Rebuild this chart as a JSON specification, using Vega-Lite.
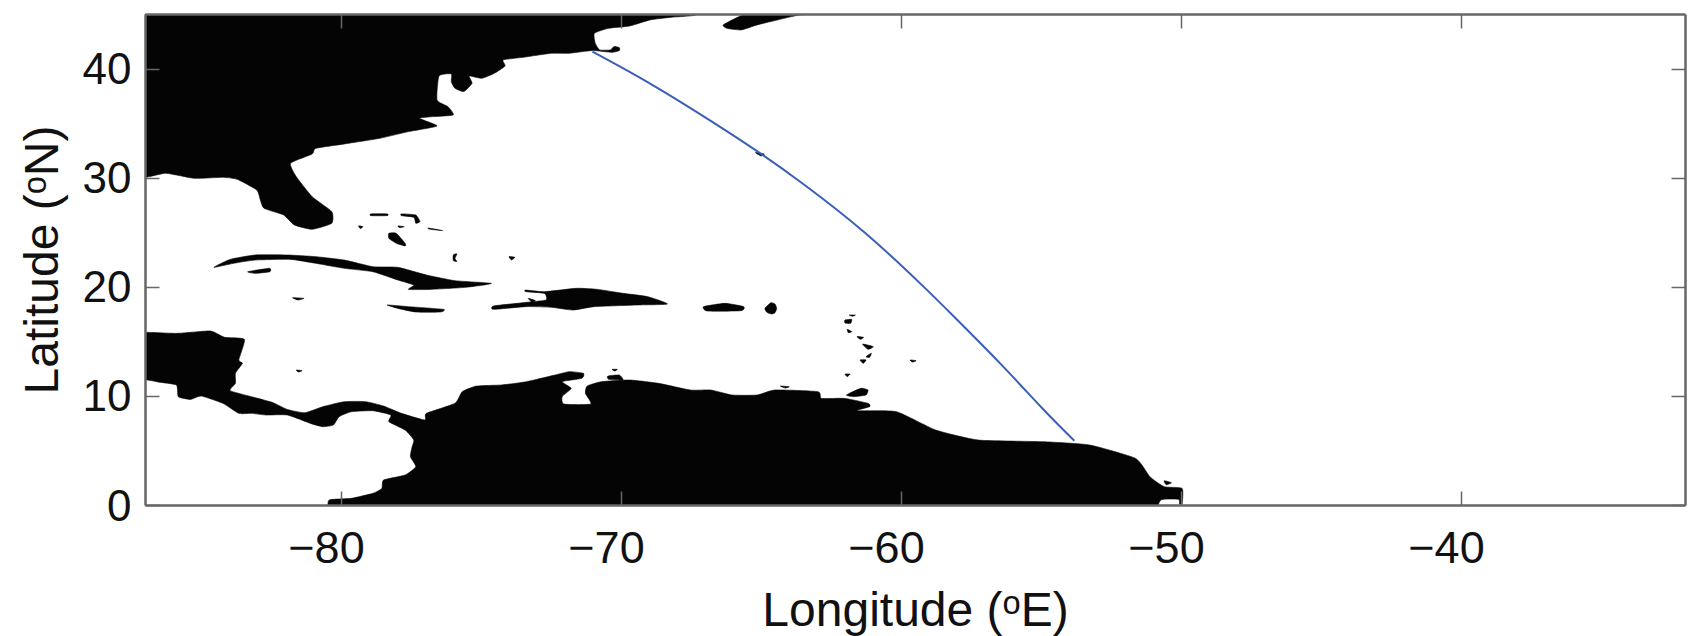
{"$schema":"https://vega.github.io/schema/vega-lite/v6.json","width":1540,"height":491,"autosize":"none","padding":{"left":145,"top":14,"right":3,"bottom":131},"background":"white","config":{"view":{"stroke":null},"font":"Liberation Sans"},"datasets":{"land":[
{"s":"na","i":1,"lon":-88,"lat":46},{"s":"na","i":2,"lon":-67.31,"lat":46},{"s":"na","i":3,"lon":-67.31,"lat":44.92},{"s":"na","i":4,"lon":-68.2,"lat":44.7},{"s":"na","i":5,"lon":-68.96,"lat":44.46},{"s":"na","i":6,"lon":-69.68,"lat":43.91},{"s":"na","i":7,"lon":-70.44,"lat":43.69},{"s":"na","i":8,"lon":-70.95,"lat":43.23},{"s":"na","i":9,"lon":-70.92,"lat":42.32},{"s":"na","i":10,"lon":-70.76,"lat":41.71},{"s":"na","i":11,"lon":-70.38,"lat":41.71},{"s":"na","i":12,"lon":-70.25,"lat":42.01},{"s":"na","i":13,"lon":-70.06,"lat":41.92},{"s":"na","i":14,"lon":-70.06,"lat":41.65},{"s":"na","i":15,"lon":-70.32,"lat":41.49},{"s":"na","i":16,"lon":-71.02,"lat":41.65},{"s":"na","i":17,"lon":-71.85,"lat":41.4},{"s":"na","i":18,"lon":-72.49,"lat":41.4},{"s":"na","i":19,"lon":-73.5,"lat":41.03},{"s":"na","i":20,"lon":-74.21,"lat":40.79},{"s":"na","i":21,"lon":-74.14,"lat":40.24},{"s":"na","i":22,"lon":-74.52,"lat":39.57},{"s":"na","i":23,"lon":-74.97,"lat":39.11},{"s":"na","i":24,"lon":-75.42,"lat":39.32},{"s":"na","i":25,"lon":-75.32,"lat":38.65},{"s":"na","i":26,"lon":-75.61,"lat":37.89},{"s":"na","i":27,"lon":-75.93,"lat":38.19},{"s":"na","i":28,"lon":-76.06,"lat":38.8},{"s":"na","i":29,"lon":-76.06,"lat":39.51},{"s":"na","i":30,"lon":-76.5,"lat":39.32},{"s":"na","i":31,"lon":-76.57,"lat":37.12},{"s":"na","i":32,"lon":-76.18,"lat":36.51},{"s":"na","i":33,"lon":-75.99,"lat":35.75},{"s":"na","i":34,"lon":-76.69,"lat":35.6},{"s":"na","i":35,"lon":-77.2,"lat":35.44},{"s":"na","i":36,"lon":-76.57,"lat":34.74},{"s":"na","i":37,"lon":-77.59,"lat":34.22},{"s":"na","i":38,"lon":-78.61,"lat":33.61},{"s":"na","i":39,"lon":-79.88,"lat":33.09},{"s":"na","i":40,"lon":-80.9,"lat":32.69},{"s":"na","i":41,"lon":-81.03,"lat":32.17},{"s":"na","i":42,"lon":-81.8,"lat":31.32},{"s":"na","i":43,"lon":-81.6,"lat":30.1},{"s":"na","i":44,"lon":-81.03,"lat":28.26},{"s":"na","i":45,"lon":-80.33,"lat":26.89},{"s":"na","i":46,"lon":-80.33,"lat":25.82},{"s":"na","i":47,"lon":-81.03,"lat":25.27},{"s":"na","i":48,"lon":-81.67,"lat":25.67},{"s":"na","i":49,"lon":-82.05,"lat":26.58},{"s":"na","i":50,"lon":-82.75,"lat":27.19},{"s":"na","i":51,"lon":-82.88,"lat":27.96},{"s":"na","i":52,"lon":-83.01,"lat":28.87},{"s":"na","i":53,"lon":-83.71,"lat":29.85},{"s":"na","i":54,"lon":-84.22,"lat":30.03},{"s":"na","i":55,"lon":-85.24,"lat":29.94},{"s":"na","i":56,"lon":-86.26,"lat":30.4},{"s":"na","i":57,"lon":-88,"lat":30.4},
{"s":"ns","i":1,"lon":-66.35,"lat":44},{"s":"ns","i":2,"lon":-65.78,"lat":44.76},{"s":"ns","i":3,"lon":-65.39,"lat":45},{"s":"ns","i":4,"lon":-62.59,"lat":45},{"s":"ns","i":5,"lon":-63.6,"lat":44.92},{"s":"ns","i":6,"lon":-64.5,"lat":44.4},{"s":"ns","i":7,"lon":-65.14,"lat":44},{"s":"ns","i":8,"lon":-65.71,"lat":43.54},{"s":"ns","i":9,"lon":-66.22,"lat":43.69},
{"s":"be","i":1,"lon":-65.2,"lat":32.3},{"s":"be","i":2,"lon":-64.88,"lat":32.17},{"s":"be","i":3,"lon":-65,"lat":31.99},
{"s":"b1","i":1,"lon":-78.93,"lat":26.68},{"s":"b1","i":2,"lon":-78.35,"lat":26.68},{"s":"b1","i":3,"lon":-78.35,"lat":26.52},{"s":"b1","i":4,"lon":-78.93,"lat":26.52},
{"s":"b2","i":1,"lon":-77.84,"lat":26.68},{"s":"b2","i":2,"lon":-77.33,"lat":26.58},{"s":"b2","i":3,"lon":-77.18,"lat":25.97},{"s":"b2","i":4,"lon":-77.33,"lat":25.82},{"s":"b2","i":5,"lon":-77.4,"lat":26.37},{"s":"b2","i":6,"lon":-77.84,"lat":26.52},
{"s":"b3","i":1,"lon":-79.37,"lat":25.58},{"s":"b3","i":2,"lon":-79.22,"lat":25.51},{"s":"b3","i":3,"lon":-79.31,"lat":25.33},
{"s":"b4","i":1,"lon":-77.97,"lat":25.58},{"s":"b4","i":2,"lon":-77.74,"lat":25.51},{"s":"b4","i":3,"lon":-77.9,"lat":25.42},
{"s":"b5","i":1,"lon":-76.89,"lat":25.39},{"s":"b5","i":2,"lon":-76.37,"lat":25.15},{"s":"b5","i":3,"lon":-76.82,"lat":25.27},
{"s":"an","i":1,"lon":-78.29,"lat":24.9},{"s":"an","i":2,"lon":-78.03,"lat":24.9},{"s":"an","i":3,"lon":-77.71,"lat":23.99},{"s":"an","i":4,"lon":-77.71,"lat":23.74},{"s":"an","i":5,"lon":-78.03,"lat":23.99},{"s":"an","i":6,"lon":-78.29,"lat":24.44},
{"s":"b7","i":1,"lon":-75.99,"lat":22.92},{"s":"b7","i":2,"lon":-75.86,"lat":23.01},{"s":"b7","i":3,"lon":-75.93,"lat":22.61},{"s":"b7","i":4,"lon":-75.86,"lat":22.31},{"s":"b7","i":5,"lon":-75.99,"lat":22.4},
{"s":"b8","i":1,"lon":-74,"lat":22.76},{"s":"b8","i":2,"lon":-73.79,"lat":22.7},{"s":"b8","i":3,"lon":-73.91,"lat":22.46},
{"s":"cu","i":1,"lon":-84.54,"lat":21.78},{"s":"cu","i":2,"lon":-83.96,"lat":22.51},{"s":"cu","i":3,"lon":-83.07,"lat":22.91},{"s":"cu","i":4,"lon":-81.92,"lat":22.91},{"s":"cu","i":5,"lon":-80.9,"lat":22.76},{"s":"cu","i":6,"lon":-79.88,"lat":22.45},{"s":"cu","i":7,"lon":-78.86,"lat":21.84},{"s":"cu","i":8,"lon":-77.97,"lat":21.78},{"s":"cu","i":9,"lon":-76.95,"lat":21.08},{"s":"cu","i":10,"lon":-75.93,"lat":20.56},{"s":"cu","i":11,"lon":-74.63,"lat":20.31},{"s":"cu","i":12,"lon":-75.55,"lat":19.95},{"s":"cu","i":13,"lon":-76.82,"lat":19.76},{"s":"cu","i":14,"lon":-77.59,"lat":19.76},{"s":"cu","i":15,"lon":-77.4,"lat":20.16},{"s":"cu","i":16,"lon":-77.97,"lat":20.62},{"s":"cu","i":17,"lon":-78.86,"lat":21.38},{"s":"cu","i":18,"lon":-79.88,"lat":21.69},{"s":"cu","i":19,"lon":-80.9,"lat":22.15},{"s":"cu","i":20,"lon":-81.8,"lat":22.51},{"s":"cu","i":21,"lon":-83.07,"lat":22.45},{"s":"cu","i":22,"lon":-83.84,"lat":22.15},
{"s":"yo","i":1,"lon":-83.33,"lat":21.38},{"s":"yo","i":2,"lon":-82.56,"lat":21.69},{"s":"yo","i":3,"lon":-82.54,"lat":21.38},{"s":"yo","i":4,"lon":-83.07,"lat":21.23},
{"s":"ca","i":1,"lon":-81.73,"lat":19},{"s":"ca","i":2,"lon":-81.32,"lat":18.94},{"s":"ca","i":3,"lon":-81.54,"lat":18.79},
{"s":"ja","i":1,"lon":-78.35,"lat":18.33},{"s":"ja","i":2,"lon":-77.59,"lat":18.18},{"s":"ja","i":3,"lon":-76.34,"lat":17.93},{"s":"ja","i":4,"lon":-76.44,"lat":17.69},{"s":"ja","i":5,"lon":-77.33,"lat":17.69},{"s":"ja","i":6,"lon":-77.97,"lat":18.02},
{"s":"hi","i":1,"lon":-73.4,"lat":19.7},{"s":"hi","i":2,"lon":-72.74,"lat":19.55},{"s":"hi","i":3,"lon":-71.59,"lat":19.86},{"s":"hi","i":4,"lon":-70.83,"lat":19.76},{"s":"hi","i":5,"lon":-69.93,"lat":19.4},{"s":"hi","i":6,"lon":-69.04,"lat":19.09},{"s":"hi","i":7,"lon":-68.34,"lat":18.42},{"s":"hi","i":8,"lon":-69.42,"lat":18.33},{"s":"hi","i":9,"lon":-70.95,"lat":18.18},{"s":"hi","i":10,"lon":-71.72,"lat":17.87},{"s":"hi","i":11,"lon":-72.49,"lat":18.12},{"s":"hi","i":12,"lon":-73.38,"lat":18.18},{"s":"hi","i":13,"lon":-74.55,"lat":17.93},{"s":"hi","i":14,"lon":-74.55,"lat":18.24},{"s":"hi","i":15,"lon":-73.5,"lat":18.54},{"s":"hi","i":16,"lon":-72.68,"lat":18.79},{"s":"hi","i":17,"lon":-72.74,"lat":19.4},{"s":"hi","i":18,"lon":-73.4,"lat":19.55},
{"s":"go","i":1,"lon":-73.31,"lat":18.94},{"s":"go","i":2,"lon":-73.06,"lat":18.73},{"s":"go","i":3,"lon":-73.19,"lat":18.6},
{"s":"pr","i":1,"lon":-67.05,"lat":18.18},{"s":"pr","i":2,"lon":-66.29,"lat":18.48},{"s":"pr","i":3,"lon":-65.62,"lat":18.18},{"s":"pr","i":4,"lon":-65.71,"lat":17.81},{"s":"pr","i":5,"lon":-66.92,"lat":17.78},
{"s":"vi","i":1,"lon":-64.86,"lat":18.02},{"s":"vi","i":2,"lon":-64.65,"lat":18.54},{"s":"vi","i":3,"lon":-64.5,"lat":18.42},{"s":"vi","i":4,"lon":-64.44,"lat":18.02},{"s":"vi","i":5,"lon":-64.5,"lat":17.63},{"s":"vi","i":6,"lon":-64.63,"lat":17.5},{"s":"vi","i":7,"lon":-64.79,"lat":17.66},
{"s":"a1","i":1,"lon":-61.85,"lat":17.41},{"s":"a1","i":2,"lon":-61.63,"lat":17.41},{"s":"a1","i":3,"lon":-61.73,"lat":17.29},
{"s":"a2","i":1,"lon":-62,"lat":16.95},{"s":"a2","i":2,"lon":-61.76,"lat":17.01},{"s":"a2","i":3,"lon":-61.8,"lat":16.65},{"s":"a2","i":4,"lon":-62,"lat":16.68},
{"s":"a3","i":1,"lon":-61.92,"lat":16.1},{"s":"a3","i":2,"lon":-61.76,"lat":15.88},{"s":"a3","i":3,"lon":-61.88,"lat":15.79},
{"s":"a4","i":1,"lon":-61.57,"lat":15.43},{"s":"a4","i":2,"lon":-61.34,"lat":15.37},{"s":"a4","i":3,"lon":-61.44,"lat":15.18},
{"s":"a5","i":1,"lon":-61.37,"lat":14.75},{"s":"a5","i":2,"lon":-60.99,"lat":14.51},{"s":"a5","i":3,"lon":-61.18,"lat":14.27},
{"s":"a6","i":1,"lon":-61.25,"lat":13.59},{"s":"a6","i":2,"lon":-61.06,"lat":13.9},{"s":"a6","i":3,"lon":-61.12,"lat":13.53},
{"s":"a7","i":1,"lon":-61.46,"lat":13.29},{"s":"a7","i":2,"lon":-61.25,"lat":13.29},{"s":"a7","i":3,"lon":-61.35,"lat":12.98},
{"s":"a8","i":1,"lon":-62,"lat":12},{"s":"a8","i":2,"lon":-61.82,"lat":12},{"s":"a8","i":3,"lon":-61.92,"lat":11.76},
{"s":"a9","i":1,"lon":-59.68,"lat":13.29},{"s":"a9","i":2,"lon":-59.46,"lat":13.23},{"s":"a9","i":3,"lon":-59.59,"lat":13.1},
{"s":"a10","i":1,"lon":-64.31,"lat":10.9},{"s":"a10","i":2,"lon":-63.99,"lat":10.84},{"s":"a10","i":3,"lon":-64.14,"lat":10.72},
{"s":"tr","i":1,"lon":-61.95,"lat":10.08},{"s":"tr","i":2,"lon":-61.44,"lat":10.69},{"s":"tr","i":3,"lon":-61.18,"lat":10.54},{"s":"tr","i":4,"lon":-61.25,"lat":10.08},{"s":"tr","i":5,"lon":-61.69,"lat":9.93},
{"s":"c1","i":1,"lon":-81.6,"lat":12.37},{"s":"c1","i":2,"lon":-81.39,"lat":12.31},{"s":"c1","i":3,"lon":-81.52,"lat":12.19},
{"s":"c2","i":1,"lon":-70.32,"lat":12.43},{"s":"c2","i":2,"lon":-70.13,"lat":12.43},{"s":"c2","i":3,"lon":-70.22,"lat":12.28},
{"s":"c3","i":1,"lon":-70.47,"lat":11.82},{"s":"c3","i":2,"lon":-70.06,"lat":11.91},{"s":"c3","i":3,"lon":-69.93,"lat":11.45},{"s":"c3","i":4,"lon":-70.44,"lat":11.52},
{"s":"ma","i":1,"lon":-50.6,"lat":2.23},{"s":"ma","i":2,"lon":-50.34,"lat":2.04},{"s":"ma","i":3,"lon":-50.53,"lat":1.86},
{"s":"sa","i":1,"lon":-80.46,"lat":-0.5},{"s":"sa","i":2,"lon":-80.42,"lat":0.46},{"s":"sa","i":3,"lon":-79.63,"lat":0.61},{"s":"sa","i":4,"lon":-78.86,"lat":1.07},{"s":"sa","i":5,"lon":-78.54,"lat":1.52},{"s":"sa","i":6,"lon":-78.48,"lat":2.29},{"s":"sa","i":7,"lon":-77.71,"lat":2.75},{"s":"sa","i":8,"lon":-77.33,"lat":3.51},{"s":"sa","i":9,"lon":-77.52,"lat":4.43},{"s":"sa","i":10,"lon":-77.46,"lat":5.34},{"s":"sa","i":11,"lon":-77.4,"lat":5.96},{"s":"sa","i":12,"lon":-77.71,"lat":6.87},{"s":"sa","i":13,"lon":-78.29,"lat":7.64},{"s":"sa","i":14,"lon":-78.22,"lat":8.25},{"s":"sa","i":15,"lon":-78.86,"lat":8.64},{"s":"sa","i":16,"lon":-79.63,"lat":8.55},{"s":"sa","i":17,"lon":-80.07,"lat":8.09},{"s":"sa","i":18,"lon":-80.27,"lat":7.33},{"s":"sa","i":19,"lon":-80.65,"lat":7.18},{"s":"sa","i":20,"lon":-81.09,"lat":7.48},{"s":"sa","i":21,"lon":-81.92,"lat":8.25},{"s":"sa","i":22,"lon":-82.69,"lat":8.25},{"s":"sa","i":23,"lon":-83.2,"lat":8.4},{"s":"sa","i":24,"lon":-83.65,"lat":8.4},{"s":"sa","i":25,"lon":-84.22,"lat":9.32},{"s":"sa","i":26,"lon":-84.99,"lat":9.99},{"s":"sa","i":27,"lon":-85.37,"lat":9.68},{"s":"sa","i":28,"lon":-85.81,"lat":9.93},{"s":"sa","i":29,"lon":-85.88,"lat":11},{"s":"sa","i":30,"lon":-86.58,"lat":11.3},{"s":"sa","i":31,"lon":-88,"lat":12.22},{"s":"sa","i":32,"lon":-88,"lat":15.73},{"s":"sa","i":33,"lon":-85.88,"lat":15.73},{"s":"sa","i":34,"lon":-84.67,"lat":15.95},{"s":"sa","i":35,"lon":-84.16,"lat":15.37},{"s":"sa","i":36,"lon":-83.45,"lat":15.18},{"s":"sa","i":37,"lon":-83.65,"lat":13.29},{"s":"sa","i":38,"lon":-83.52,"lat":12.98},{"s":"sa","i":39,"lon":-83.77,"lat":12.07},{"s":"sa","i":40,"lon":-83.77,"lat":11.15},{"s":"sa","i":41,"lon":-83.96,"lat":10.48},{"s":"sa","i":42,"lon":-83.2,"lat":9.93},{"s":"sa","i":43,"lon":-82.43,"lat":9.38},{"s":"sa","i":44,"lon":-81.92,"lat":8.76},{"s":"sa","i":45,"lon":-81.29,"lat":8.46},{"s":"sa","i":46,"lon":-80.65,"lat":9.01},{"s":"sa","i":47,"lon":-79.88,"lat":9.47},{"s":"sa","i":48,"lon":-79.12,"lat":9.47},{"s":"sa","i":49,"lon":-78.48,"lat":9.07},{"s":"sa","i":50,"lon":-77.84,"lat":8.4},{"s":"sa","i":51,"lon":-77.01,"lat":7.79},{"s":"sa","i":52,"lon":-76.95,"lat":8.4},{"s":"sa","i":53,"lon":-75.93,"lat":9.32},{"s":"sa","i":54,"lon":-75.67,"lat":10.39},{"s":"sa","i":55,"lon":-75.16,"lat":10.9},{"s":"sa","i":56,"lon":-74.27,"lat":11},{"s":"sa","i":57,"lon":-73.38,"lat":11.3},{"s":"sa","i":58,"lon":-72.36,"lat":11.91},{"s":"sa","i":59,"lon":-71.85,"lat":12.22},{"s":"sa","i":60,"lon":-71.34,"lat":12.07},{"s":"sa","i":61,"lon":-71.4,"lat":11.61},{"s":"sa","i":62,"lon":-72.1,"lat":11.3},{"s":"sa","i":63,"lon":-71.78,"lat":10.69},{"s":"sa","i":64,"lon":-72.1,"lat":9.93},{"s":"sa","i":65,"lon":-72.04,"lat":9.25},{"s":"sa","i":66,"lon":-71.08,"lat":9.25},{"s":"sa","i":67,"lon":-71.27,"lat":10.23},{"s":"sa","i":68,"lon":-71.21,"lat":10.9},{"s":"sa","i":69,"lon":-70.7,"lat":11.3},{"s":"sa","i":70,"lon":-69.68,"lat":11.45},{"s":"sa","i":71,"lon":-68.66,"lat":11.15},{"s":"sa","i":72,"lon":-67.53,"lat":10.54},{"s":"sa","i":73,"lon":-66.8,"lat":10.54},{"s":"sa","i":74,"lon":-66.03,"lat":10.08},{"s":"sa","i":75,"lon":-65.14,"lat":10.08},{"s":"sa","i":76,"lon":-64.5,"lat":10.54},{"s":"sa","i":77,"lon":-62.97,"lat":10.39},{"s":"sa","i":78,"lon":-62.84,"lat":9.77},{"s":"sa","i":79,"lon":-62.01,"lat":9.77},{"s":"sa","i":80,"lon":-61.18,"lat":9.32},{"s":"sa","i":81,"lon":-61.12,"lat":9.01},{"s":"sa","i":82,"lon":-61.57,"lat":8.64},{"s":"sa","i":83,"lon":-60.16,"lat":8.55},{"s":"sa","i":84,"lon":-58.76,"lat":6.87},{"s":"sa","i":85,"lon":-57.23,"lat":5.95},{"s":"sa","i":86,"lon":-54.93,"lat":5.8},{"s":"sa","i":87,"lon":-53.27,"lat":5.5},{"s":"sa","i":88,"lon":-51.62,"lat":4.27},{"s":"sa","i":89,"lon":-51.11,"lat":2.59},{"s":"sa","i":90,"lon":-50.6,"lat":1.68},{"s":"sa","i":91,"lon":-49.96,"lat":1.52},{"s":"sa","i":92,"lon":-49.96,"lat":0.09},{"s":"sa","i":93,"lon":-50.05,"lat":0.09},{"s":"sa","i":94,"lon":-50.09,"lat":0.52},{"s":"sa","i":95,"lon":-50.72,"lat":0.46},{"s":"sa","i":96,"lon":-51,"lat":-1},{"s":"sa","i":97,"lon":-52,"lat":-3},{"s":"sa","i":98,"lon":-80.4,"lat":-3}
],"track":[
{"i":1,"lon":-71.02,"lat":41.55},{"i":2,"lon":-68.96,"lat":38.62},{"i":3,"lon":-66.67,"lat":35},{"i":4,"lon":-65.01,"lat":32.2},{"i":5,"lon":-63.48,"lat":29.4},{"i":6,"lon":-61.31,"lat":25},{"i":7,"lon":-59.27,"lat":20.2},{"i":8,"lon":-58.12,"lat":17.3},{"i":9,"lon":-56.46,"lat":12.98},{"i":10,"lon":-54.93,"lat":8.8},{"i":11,"lon":-53.81,"lat":5.89}
]},"layer":[
{"data":{"name":"land"},"mark":{"type":"line","fill":"#040404","stroke":"#040404","strokeWidth":0.6,"clip":true,"interpolate":"cardinal-closed","tension":0.5},"encoding":{"x":{"field":"lon","type":"quantitative","scale":{"domain":[-87,-32],"nice":false,"zero":false},"axis":{"orient":"bottom","title":"Longitude (ᵒE)","values":[-80,-70,-60,-50,-40],"grid":false,"tickSize":-14,"tickColor":"#666","tickWidth":1.5,"domainColor":"#666","domainWidth":2.5,"labelFont":"Liberation Sans","labelFontSize":45,"labelColor":"#111","labelPadding":35,"labelOffset":-15,"titleFont":"Liberation Sans","titleFontSize":48,"titleFontWeight":"normal","titleColor":"#111","titlePadding":16,"zindex":1}},"y":{"field":"lat","type":"quantitative","scale":{"domain":[0,45],"nice":false,"zero":false},"axis":{"orient":"left","title":"Latitude (ᵒN)","values":[0,10,20,30,40],"grid":false,"tickSize":-14,"tickColor":"#666","tickWidth":1.5,"domainColor":"#666","domainWidth":2.5,"labelFont":"Liberation Sans","labelFontSize":44,"labelColor":"#111","labelPadding":28,"labelOffset":2,"titleFont":"Liberation Sans","titleFontSize":48,"titleFontWeight":"normal","titleColor":"#111","titlePadding":15,"zindex":1}},"detail":{"field":"s"},"order":{"field":"i","type":"quantitative"}}},
{"data":{"name":"track"},"mark":{"type":"line","stroke":"#3a5fb8","strokeWidth":2,"interpolate":"natural"},"encoding":{"x":{"field":"lon","type":"quantitative","axis":{"orient":"top","title":null,"values":[-80,-70,-60,-50,-40],"labels":false,"grid":false,"tickSize":-14,"tickColor":"#666","tickWidth":1.5,"domainColor":"#666","domainWidth":2.5,"zindex":1}},"y":{"field":"lat","type":"quantitative","axis":{"orient":"right","title":null,"values":[0,10,20,30,40],"labels":false,"grid":false,"tickSize":-14,"tickColor":"#666","tickWidth":1.5,"domainColor":"#666","domainWidth":2.5,"zindex":1}},"order":{"field":"i","type":"quantitative"}}}
],"resolve":{"axis":{"x":"independent","y":"independent"}}}
